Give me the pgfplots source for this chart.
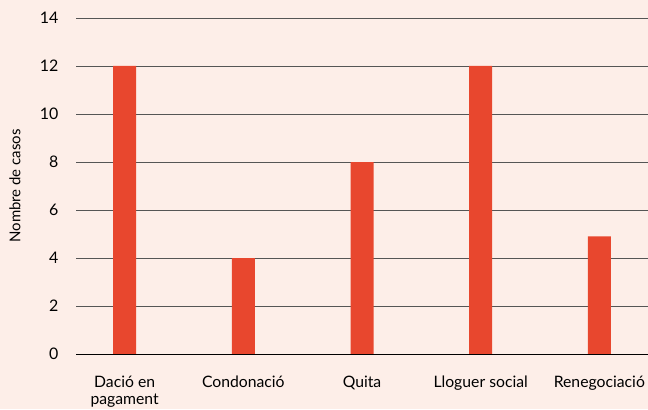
\documentclass[border=0pt]{standalone}
\usepackage{pgfplots}
\pgfplotsset{compat=1.18}
\usepackage{fontspec}
\setmainfont{Lato}
\definecolor{bg}{HTML}{FDEEE8}
\definecolor{bar}{HTML}{E8472E}
\definecolor{gridc}{HTML}{555555}
\begin{document}
\begin{tikzpicture}[x=1bp,y=1bp]
\fill[bg] (0,0) rectangle (648,409);
\useasboundingbox (0,0) rectangle (648,409);
\begin{axis}[
  at={(76bp,55bp)}, anchor=south west,
  scale only axis, width=572bp, height=336bp,
  xmin=-0.41, xmax=4.41, ymin=0, ymax=14,
  axis line style={draw=none},
  ytick={0,2,...,14},
  xtick=data,
  xticklabels={{Dació en\\pagament},Condonació,Quita,Lloguer social,Renegociació},
  xticklabel style={align=center, font=\fontsize{15.8}{18}\selectfont, text depth=0pt},
  yticklabel style={font=\fontsize{16}{18}\selectfont},
  /pgf/number format/assume math mode=true,
  major tick length=0pt,
  xmajorgrids=false, ymajorgrids=true,
  major grid style={draw=gridc, line width=0.9bp},
  ylabel={Nombre de casos},
  every axis y label/.style={at={(rel axis cs:0,0.5)}, xshift=-61bp, rotate=90, anchor=center, font=\fontsize{15}{17}\selectfont},
  yticklabel shift=14bp,
  xticklabel shift=18bp,
]
\addplot[ybar, bar width=23bp, fill=bar, draw=none] coordinates {(0,12) (1,4) (2,8) (3,12) (4,4.9)};
\draw[black, line width=1bp] (axis cs:-0.41,0) -- (axis cs:4.41,0);
\end{axis}
\end{tikzpicture}
\end{document}
